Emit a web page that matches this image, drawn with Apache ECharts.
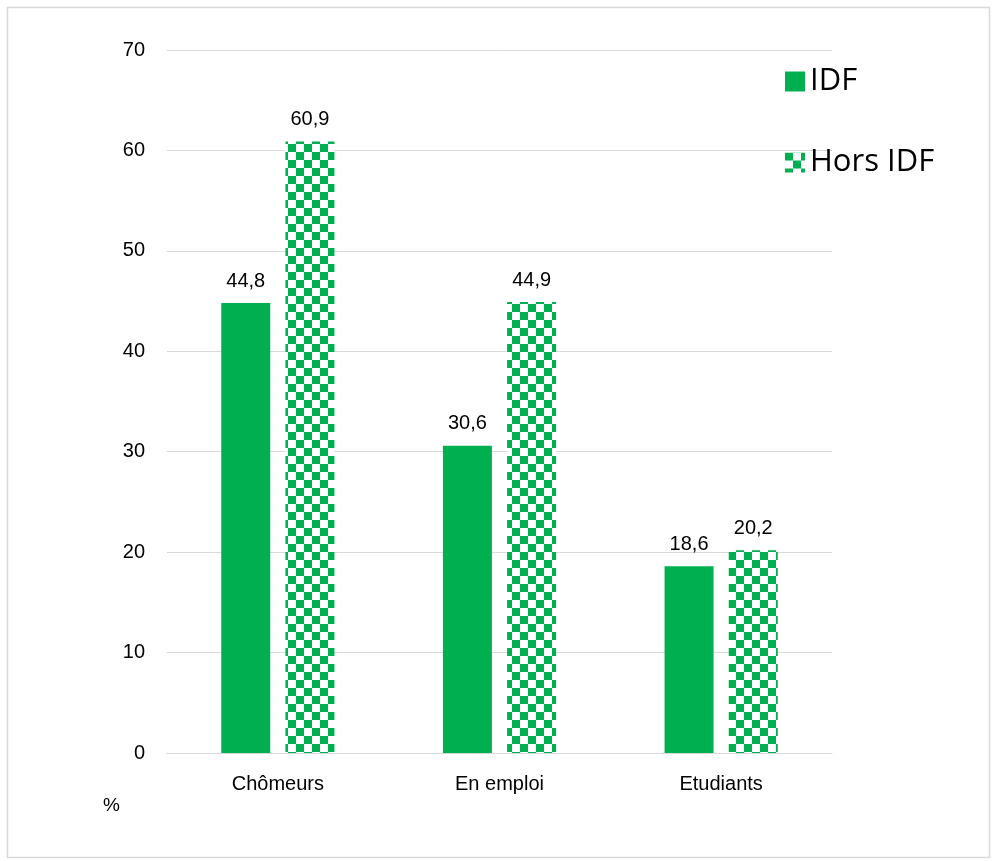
<!DOCTYPE html>
<html><head><meta charset="utf-8">
<script src="https://cdn.jsdelivr.net/npm/echarts@6/dist/echarts.min.js"></script>
<style>html,body{margin:0;padding:0;background:#fff}#c{width:993px;height:861px}</style>
</head><body><div id="c"></div>
<script>
const categories = ['Chômeurs', 'En emploi', 'Etudiants'];
const idf = [44.8, 30.6, 18.6];
const horsIdf = [60.9, 44.9, 20.2];
const seriesNames = ['IDF', 'Hors IDF'];
const yTicks = [0, 10, 20, 30, 40, 50, 60, 70];

const green = '#00b050';
const FONT = "'Liberation Sans', Arial, sans-serif";
const cv = document.createElement('canvas');
cv.width = 16; cv.height = 16;
const cx = cv.getContext('2d');
cx.fillStyle = '#fff'; cx.fillRect(0, 0, 16, 16);
cx.fillStyle = green; cx.fillRect(0, 0, 8, 8); cx.fillRect(8, 8, 8, 8);
const checker = { image: cv, repeat: 'repeat' };

const fmt = p => p.value.toFixed(1).replace('.', ',');
const chart = echarts.init(document.getElementById('c'));
chart.setOption({
  animation: false,
  backgroundColor: '#fff',
  grid: { left: 167, right: 161, top: 50, bottom: 108 },
  graphic: [
    { type: 'rect', shape: { x: 7.5, y: 7.5, width: 982, height: 850 }, style: { fill: 'none', stroke: '#d9d9d9', lineWidth: 1.5 } },
    { type: 'text', left: 103, top: 796, style: { text: '%', fontSize: 19, fontFamily: FONT, fill: '#000' } }
  ],
  legend: {
    orient: 'vertical', left: 780, top: 61, itemWidth: 20, itemHeight: 20, itemGap: 50,
    icon: 'rect',
    textStyle: { fontSize: 31, fontFamily: 'Open Sans', color: '#000' },
    data: seriesNames
  },
  xAxis: {
    type: 'category', data: categories,
    axisLine: { lineStyle: { color: '#d9d9d9', width: 1 } },
    axisTick: { show: false },
    axisLabel: { fontSize: 20, fontFamily: FONT, color: '#000', margin: 21 }
  },
  yAxis: {
    type: 'value', min: yTicks[0], max: yTicks[yTicks.length - 1], interval: 10,
    axisLine: { show: false }, axisTick: { show: false },
    splitLine: { lineStyle: { color: '#d9d9d9', width: 1 } },
    axisLabel: { fontSize: 20, fontFamily: FONT, color: '#000', margin: 22 }
  },
  series: [
    { name: seriesNames[0], type: 'bar', data: idf, barWidth: 49, barGap: '31%',
      itemStyle: { color: green },
      label: { show: true, position: 'top', distance: 12, formatter: fmt, fontSize: 20, fontFamily: FONT, color: '#000' } },
    { name: seriesNames[1], type: 'bar', data: horsIdf, barWidth: 49,
      itemStyle: { color: checker },
      label: { show: true, position: 'top', distance: 12, formatter: fmt, fontSize: 20, fontFamily: FONT, color: '#000' } }
  ]
});
</script></body></html>
